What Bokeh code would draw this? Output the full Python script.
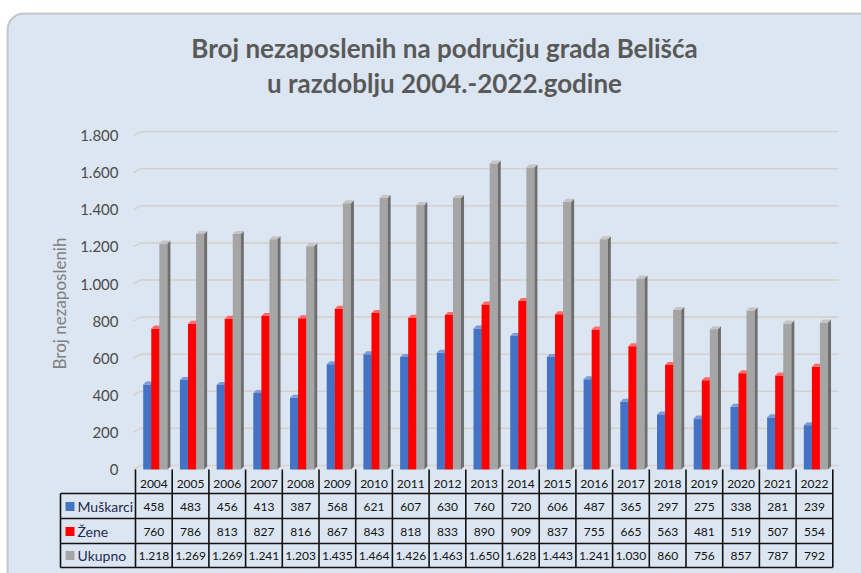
import math
from bokeh.plotting import figure
from bokeh.models import Range1d, BoxAnnotation
from bokeh.core.properties import value
from bokeh.embed import file_html
from bokeh.resources import INLINE

# ---------------- data ----------------
years = ["2004", "2005", "2006", "2007", "2008", "2009", "2010", "2011", "2012", "2013",
         "2014", "2015", "2016", "2017", "2018", "2019", "2020", "2021", "2022"]
muskarci = [458, 483, 456, 413, 387, 568, 621, 607, 630, 760, 720, 606, 487, 365, 297, 275, 338, 281, 239]
zene = [760, 786, 813, 827, 816, 867, 843, 818, 833, 890, 909, 837, 755, 665, 563, 481, 519, 507, 554]
ukupno = [1218, 1269, 1269, 1241, 1203, 1435, 1464, 1426, 1463, 1650, 1628, 1443, 1241, 1030, 860, 756, 857, 787, 792]
series_names = ["Muškarci", "Žene", "Ukupno"]
y_ticks = [0, 200, 400, 600, 800, 1000, 1200, 1400, 1600, 1800]
title_lines = ["Broj nezaposlenih na području grada Belišća", "u razdoblju 2004.-2022.godine"]
y_title = "Broj nezaposlenih"

# ---------------- layout helpers (page pixels -> data) ----------------
X0, XU = 135.0, 36.7          # px of x=0, px per category
Y0, YU = 469.0, 37.1 / 200.0  # px of y=0, px per unit
def X(px):
    return (px - X0) / XU
def Y(py):
    return (Y0 - py) / YU
def dx(px):
    return px / XU
def dy(px):
    return px / YU

FONT = value("Lato")
W, H = 861, 573
p = figure(width=W, height=H, output_backend="svg", toolbar_location=None,
           x_range=Range1d(X(0), X(W)), y_range=Range1d(Y(H), Y(0)),
           min_border=0, outline_line_color=None,
           background_fill_color="white", border_fill_color="white")
p.axis.visible = False
p.grid.visible = False

# chart area with rounded border
box = BoxAnnotation(left=X(7), right=X(890), top=Y(13), bottom=Y(610),
                    fill_color="#dce6f2", fill_alpha=1.0,
                    line_color="#5f5f5f", line_width=2, border_radius=16,
                    level="underlay")
p.add_layout(box)

# gridlines (3D back wall with short perspective stub)
DEP_X, DEP_Y = 7.0, 4.0
gy = list(y_ticks)
p.segment(x0=[X(133)] * len(gy), y0=gy, x1=[X(133 + DEP_X)] * len(gy),
          y1=[t + dy(DEP_Y) for t in gy], line_color="#d6d1cc", line_width=1.6)
p.segment(x0=[X(133 + DEP_X)] * len(gy), y0=[t + dy(DEP_Y) for t in gy],
          x1=[X(838)] * len(gy), y1=[t + dy(DEP_Y) for t in gy],
          line_color="#d6d1cc", line_width=1.6)

# y tick labels
p.text(x=[X(118)] * len(y_ticks), y=y_ticks,
       text=[f"{t:,}".replace(",", ".") for t in y_ticks],
       text_font=FONT, text_font_size="15px", text_color="#4a4a4a",
       text_align="right", text_baseline="middle")
# y axis title
p.text(x=[X(59)], y=[Y(303)], text=[y_title], angle=math.pi / 2,
       text_font=FONT, text_font_size="17px", text_color="#7f7f7f",
       text_align="center", text_baseline="middle")

# chart title
p.text(x=[X(444)] * 2, y=[Y(47), Y(82)], text=title_lines,
       text_font=FONT, text_font_size="26px", text_font_style="bold",
       text_color="#595959", text_align="center", text_baseline="middle")

# 3D bars
BW = 0.22
D_X, D_Y = dx(3.0), dy(3.0)
offsets = [0.32, 0.54, 0.76]
colors = [("#4472c4", "#2f528f", "#7d9bd6"),
          ("#ff0000", "#b00000", "#ff6a6a"),
          ("#a5a5a5", "#6e6e6e", "#c4c4c4")]
for vals, off, (cf, cs, ct) in zip([muskarci, zene, ukupno], offsets, colors):
    xc = [i + off for i in range(len(vals))]
    p.vbar(x=xc, top=vals, bottom=0, width=BW, fill_color=cf, line_color=None)
    side_xs, side_ys, top_xs, top_ys = [], [], [], []
    for c, v in zip(xc, vals):
        r, l = c + BW / 2, c - BW / 2
        side_xs.append([r, r, r + D_X, r + D_X])
        side_ys.append([0, v, v + D_Y, D_Y])
        top_xs.append([l, r, r + D_X, l + D_X])
        top_ys.append([v, v, v + D_Y, v + D_Y])
    p.patches(xs=side_xs, ys=side_ys, fill_color=cs, line_color=None)
    p.patches(xs=top_xs, ys=top_ys, fill_color=ct, line_color=None)

# data table
n = len(years)
row_top = [469, 493, 518, 543]
row_bot = 567
p.segment(x0=list(range(n + 1)), y0=[Y(row_top[0])] * (n + 1),
          x1=list(range(n + 1)), y1=[Y(row_bot)] * (n + 1),
          line_color="#111111", line_width=1.6)
p.segment(x0=[X(60)], y0=[Y(row_top[1])], x1=[X(60)], y1=[Y(row_bot)],
          line_color="#111111", line_width=1.6)
hy = [row_top[1], row_top[2], row_top[3], row_bot]
p.segment(x0=[X(60)] * len(hy), y0=[Y(v) for v in hy], x1=[n] * len(hy), y1=[Y(v) for v in hy],
          line_color="#111111", line_width=1.6)

def fmt(v):
    return f"{v:,}".replace(",", ".")

xc = [i + 0.5 for i in range(n)]
p.text(x=xc, y=[Y(483)] * n, text=years, text_font=FONT, text_font_size="12px",
       text_color="#111111", text_align="center", text_baseline="middle")
row_centers = [506, 531, 555]
for vals, rc in zip([muskarci, zene, ukupno], row_centers):
    p.text(x=xc, y=[Y(rc)] * n, text=[fmt(v) for v in vals], text_font=FONT,
           text_font_size="12px", text_color="#111111", text_align="center",
           text_baseline="middle")
# legend keys in table
p.rect(x=[X(69.5)] * 3, y=[Y(rc) for rc in row_centers], width=dx(9), height=dy(9),
       fill_color=[c[0] for c in colors], line_color=None)
p.text(x=[X(77)] * 3, y=[Y(rc) for rc in row_centers], text=series_names,
       text_font=FONT, text_font_size="14px", text_color="#1f2a50",
       text_align="left", text_baseline="middle")

open("out.html", "w").write(file_html(p, INLINE))
